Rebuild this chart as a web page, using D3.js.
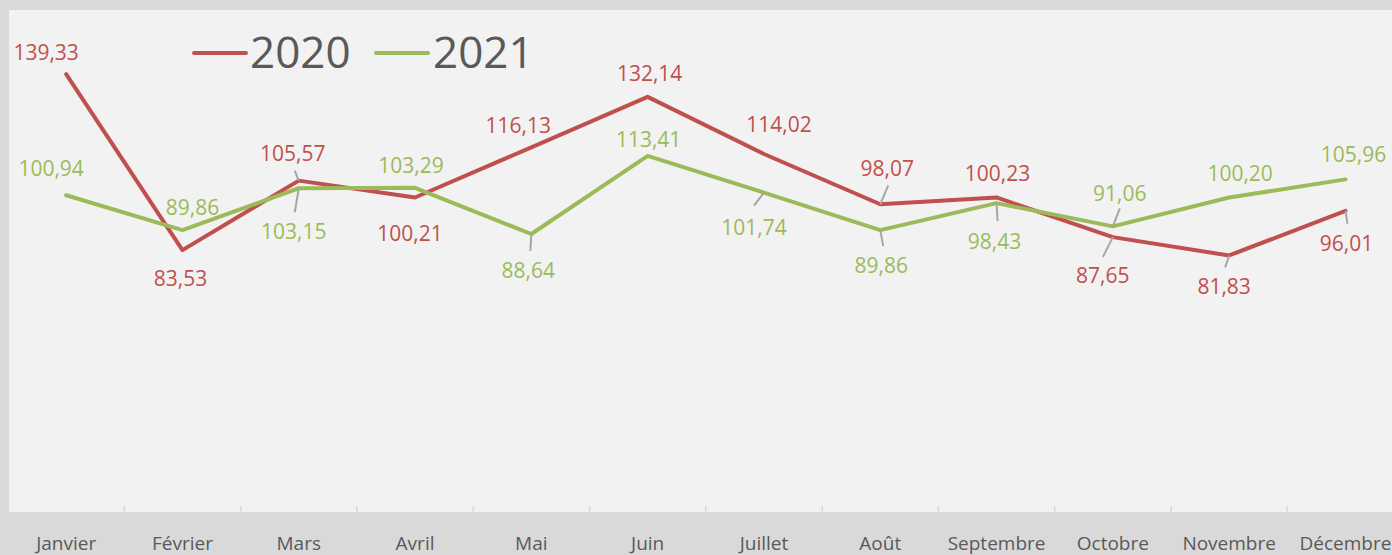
<!DOCTYPE html>
<html lang="fr">
<head>
<meta charset="UTF-8">
<title>2020 / 2021</title>
<style>
    body { margin: 0; background: #d9d9d9; }
    svg { display: block; font-family: "Open Sans", sans-serif; }
    .val { font-size: 21px; text-anchor: middle; }
    .month { font-size: 19px; fill: #595959; text-anchor: middle; }
    .legend-text { font-size: 44px; fill: #595959; }
</style>
</head>
<body>
<svg width="1392" height="555"></svg>
<script src="https://d3js.org/d3.v7.min.js"></script>
<script>
const months = ["Janvier", "Février", "Mars", "Avril", "Mai", "Juin", "Juillet", "Août", "Septembre", "Octobre", "Novembre", "Décembre"];
const values2020 = [139.33, 83.53, 105.57, 100.21, 116.13, 132.14, 114.02, 98.07, 100.23, 87.65, 81.83, 96.01];
const values2021 = [100.94, 89.86, 103.15, 103.29, 88.64, 113.41, 101.74, 89.86, 98.43, 91.06, 100.20, 105.96];

// label placement (px offsets from the point, baseline) and leader line ends
const labelPos2020 = [[-20, -14], [-2, 36], [-6, -20], [-5, 43], [-13, -14], [2, -16], [15, -22], [7, -28], [1, -16], [-10, 46], [-5, 39], [1, 40]];
const labelPos2021 = [[-15, -19], [10, -15], [-5, 51], [-4, -15], [-3, 44], [1, -9], [-10, 42], [1, 43], [-2, 46], [7, -25], [11, -17], [8, -17]];
const leaders2020 = [null, null, [-4, -10], null, null, null, null, [8, -19], null, [-10, 20], [-4, 12], [2, 13]];
const leaders2021 = [null, null, [-4, 24], null, [-1, 17], null, [-10, 13], [3, 16], [1, 18], [7, -18], null, null];

const width = 1392, height = 555;
const svg = d3.select("svg");

// plot area
svg.append("rect").attr("x", 9).attr("y", 10).attr("width", width - 9).attr("height", 502).attr("fill", "#f2f2f2");

const x = d3.scaleBand().domain(months).range([8, 8 + 12 * 116.3]);
const y = d3.scaleLinear().domain([0, 160]).range([513.5, 9]);
const cx = m => x(m) + x.bandwidth() / 2;

// ticks between categories
svg.append("g").selectAll("line")
    .data(months.slice(1))
    .join("line")
    .attr("x1", d => x(d)).attr("x2", d => x(d))
    .attr("y1", 506).attr("y2", 512)
    .attr("stroke", "#d9d9d9").attr("stroke-width", 1.5);

svg.append("g").selectAll("text")
    .data(months)
    .join("text")
    .attr("class", "month")
    .attr("x", d => cx(d))
    .attr("y", 550)
    .text(d => d);

const series = [
    { name: "2020", values: values2020, color: "#c0504d", pos: labelPos2020, leaders: leaders2020 },
    { name: "2021", values: values2021, color: "#9bbb59", pos: labelPos2021, leaders: leaders2021 }
];

const line = d3.line().x((d, i) => cx(months[i])).y(d => y(d));

series.forEach(s => {
    svg.append("path")
        .datum(s.values)
        .attr("fill", "none")
        .attr("stroke", s.color)
        .attr("stroke-width", 4)
        .attr("stroke-linejoin", "round")
        .attr("stroke-linecap", "round")
        .attr("d", line);
});

series.forEach(s => {
    const g = svg.append("g");
    s.values.forEach((v, i) => {
        const px = cx(months[i]), py = y(v);
        const ld = s.leaders[i];
        if (ld) {
            g.append("line")
                .attr("x1", px).attr("y1", py)
                .attr("x2", px + ld[0]).attr("y2", py + ld[1])
                .attr("stroke", "#a6a6a6").attr("stroke-width", 2);
        }
        g.append("text")
            .attr("class", "val")
            .attr("fill", s.color)
            .attr("x", px + s.pos[i][0])
            .attr("y", py + s.pos[i][1])
            .text(d3.format(".2f")(v).replace(".", ","));
    });
});

// legend
const legend = svg.append("g");
[[194, 250], [376, 433]].forEach((p, i) => {
    legend.append("line")
        .attr("x1", p[0]).attr("x2", p[0] + 52)
        .attr("y1", 53).attr("y2", 53)
        .attr("stroke", series[i].color).attr("stroke-width", 4)
        .attr("stroke-linecap", "round");
    legend.append("text")
        .attr("class", "legend-text")
        .attr("x", p[1]).attr("y", 68)
        .text(series[i].name);
});
</script>
</body>
</html>
